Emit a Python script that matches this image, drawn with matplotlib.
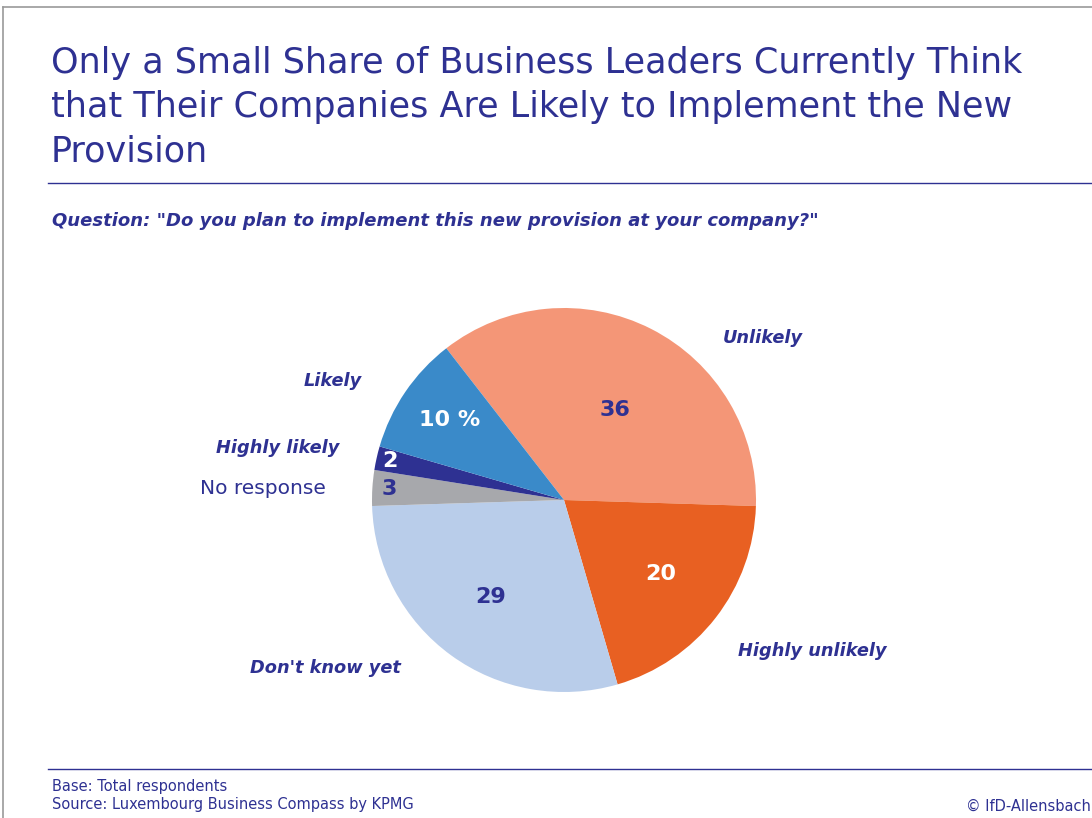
import matplotlib
matplotlib.use("Agg")
import matplotlib.pyplot as plt
from matplotlib.lines import Line2D

# Survey answers, clockwise from the top
categories = ["Unlikely", "Highly unlikely", "Don't know yet", "No response", "Highly likely", "Likely"]
shares = [36, 20, 29, 3, 2, 10]
value_labels = ["36", "20", "29", "3", "2", "10 %"]

title_lines = [
    "Only a Small Share of Business Leaders Currently Think",
    "that Their Companies Are Likely to Implement the New",
    "Provision",
]
question = 'Question: "Do you plan to implement this new provision at your company?"'
footer_lines = ["Base: Total respondents", "Source: Luxembourg Business Compass by KPMG"]
copyright_text = "\u00a9 IfD-Allensbach"

# Styling
NAVY = "#2E3192"
colors = ["#F49677", "#E86022", "#B9CDEA", "#A7A8AC", "#2E3192", "#3A8AC9"]
value_colors = [NAVY, "white", NAVY, NAVY, "white", "white"]
label_italic = [True, True, True, False, True, True]
FONT = "DejaVu Sans"

W, H = 1092, 818
fig = plt.figure(figsize=(W / 100, H / 100), dpi=100)
fig.patch.set_facecolor("white")

# Pie chart
cx, cy, r = 564, 500, 192
ax = fig.add_axes([(cx - r) / W, (H - cy - r) / H, 2 * r / W, 2 * r / H])
ax.pie(shares, colors=colors, startangle=127.8, counterclock=False,
       wedgeprops=dict(linewidth=0))
ax.set_xlim(-1, 1)
ax.set_ylim(-1, 1)
ax.set_aspect("equal")
ax.axis("off")

# Overlay axes in pixel coordinates for the page furniture and labels
page = fig.add_axes([0, 0, 1, 1])
page.set_xlim(0, W)
page.set_ylim(H, 0)
page.patch.set_alpha(0)
page.axis("off")

# Frame
page.add_line(Line2D([3, 3], [7, H], color="#9A9A9A", lw=1.2))
page.add_line(Line2D([3, W], [7, 7], color="#9A9A9A", lw=1.2))

for i, line in enumerate(title_lines):
    page.text(51, 73 + i * 44.5, line, fontsize=25.2, color=NAVY, family=FONT,
              va="baseline", ha="left")

page.add_line(Line2D([48, W], [183, 183], color=NAVY, lw=1.0))
page.text(52, 221, question, fontsize=13, color=NAVY, family=FONT,
          fontweight="bold", style="italic", va="center", ha="left")

page.add_line(Line2D([48, W], [769, 769], color=NAVY, lw=1.0))
for i, line in enumerate(footer_lines):
    page.text(52, 787 + i * 17, line, fontsize=10.5, color=NAVY, family=FONT,
              va="center", ha="left")
page.text(W - 1, 806, copyright_text, fontsize=10.5, color=NAVY, family=FONT,
          va="center", ha="right")

# Positions (page pixels) of the value and category labels
value_pos = [(615, 410), (661, 574), (491, 597), (389, 489), (390, 461), (450, 420)]
label_pos = [(763, 338), (812, 651), (325, 668), (263, 489), (278, 448), (333, 381)]

for txt, (x, y), c in zip(value_labels, value_pos, value_colors):
    page.text(x, y, txt, fontsize=16, color=c, family=FONT, fontweight="bold",
              ha="center", va="center", zorder=5)

for name, (x, y), it in zip(categories, label_pos, label_italic):
    page.text(x, y, name, fontsize=12.8 if it else 14.5, color=NAVY, family=FONT,
              fontweight="bold" if it else "normal",
              style="italic" if it else "normal",
              ha="center", va="center", zorder=5)

fig.savefig("out.png", dpi=100, facecolor="white")
